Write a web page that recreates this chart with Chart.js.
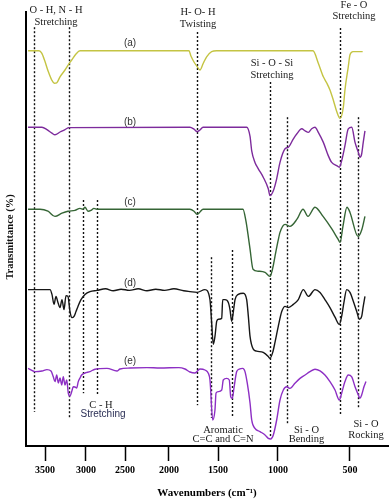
<!DOCTYPE html>
<html>
<head>
<meta charset="utf-8">
<script src="https://cdn.jsdelivr.net/npm/chart.js@4/dist/chart.umd.min.js"></script>
<style>
    html, body { margin: 0; padding: 0; background: #fff; }
</style>
</head>
<body>
<canvas id="ftirChart" width="392" height="502"></canvas>
<script>

// FTIR spectra (a)-(e), [wavenumber cm-1, transmittance]
const traceNames = ['(a)', '(b)', '(c)', '(d)', '(e)'];

const traceA = [[3707,98.8],[3573,98.8],[3540,98.2],[3500,96.1],[3460,93.6],[3418,91.5],[3387,90.7],[3357,90.8],[3317,92.3],[3256,94.0],[3216,95.3],[3174,96.5],[3122,98.0],[3073,98.8],[1796,98.8],[1776,97.5],[1745,96.0],[1711,94.8],[1684,94.0],[1650,95.7],[1616,97.3],[1565,98.6],[1514,98.8],[757,98.8],[720,95.7],[685,92.3],[662,90.8],[639,89.0],[616,86.5],[592,83.6],[569,81.9],[546,84.8],[535,89.0],[512,94.8],[500,97.8],[479,98.6],[412,98.6]];

const traceB = [[3707,79.7],[3537,79.7],[3476,79.1],[3415,78.2],[3378,77.8],[3317,78.5],[3256,79.1],[3207,79.6],[1786,79.7],[1745,79.2],[1714,78.6],[1684,79.0],[1653,79.7],[1261,79.7],[1233,77.4],[1219,73.8],[1192,70.9],[1164,69.3],[1123,67.2],[1081,64.3],[1067,62.6],[1039,63.8],[1011,66.8],[986,70.9],[951,74.3],[928,74.7],[893,76.8],[870,78.0],[835,79.3],[812,78.8],[789,78.4],[766,79.3],[743,79.7],[720,78.4],[685,75.9],[651,72.6],[627,70.9],[592,70.1],[574,69.7],[558,71.3],[535,75.1],[512,79.3],[488,79.7],[465,75.9],[442,73.4],[431,72.2],[419,73.0],[408,75.9],[396,78.8]];

const traceC = [[3707,59.2],[3561,59.2],[3464,58.7],[3378,57.4],[3293,58.2],[3220,58.7],[3134,58.9],[3073,59.4],[3037,59.2],[3012,59.7],[2974,58.7],[2936,58.9],[2898,59.4],[2859,59.2],[1786,59.2],[1745,58.7],[1714,57.9],[1684,58.5],[1653,59.2],[1292,59.2],[1267,56.2],[1250,52.9],[1233,49.2],[1208,44.2],[1167,43.7],[1108,43.4],[1067,42.4],[1042,44.7],[1025,47.4],[1000,51.2],[986,53.4],[951,55.4],[917,54.9],[868,56.7],[826,59.2],[792,57.4],[743,59.7],[687,57.4],[625,54.2],[583,51.7],[569,50.9],[549,54.9],[521,59.7],[500,58.4],[444,52.4],[417,54.2],[396,57.4]];

const traceD = [[3707,39.1],[3439,39.1],[3415,37.9],[3390,35.4],[3366,37.4],[3342,35.9],[3317,34.6],[3293,36.6],[3268,34.1],[3244,37.6],[3220,37.4],[3195,33.6],[3171,32.1],[3146,32.4],[3122,33.6],[3098,34.9],[3061,36.6],[3012,37.9],[2949,38.6],[2859,38.9],[2750,39.3],[2650,38.8],[2550,39.2],[2450,38.9],[2350,39.3],[2250,38.8],[2150,39.2],[2050,38.9],[1950,39.3],[1850,38.8],[1786,38.6],[1714,38.4],[1633,39.1],[1582,36.6],[1565,30.9],[1548,25.4],[1531,27.4],[1513,31.2],[1498,31.7],[1469,31.9],[1461,36.6],[1442,36.6],[1414,35.9],[1400,34.1],[1386,31.2],[1372,33.6],[1358,36.6],[1331,37.9],[1289,38.2],[1261,36.6],[1247,32.4],[1233,27.4],[1206,24.2],[1178,23.7],[1123,23.4],[1081,22.4],[1067,21.9],[1044,23.4],[1025,25.9],[998,29.9],[974,33.6],[951,34.9],[928,34.6],[893,35.4],[859,36.6],[824,39.1],[789,37.4],[743,39.1],[708,38.4],[674,36.6],[639,34.6],[604,32.2],[574,30.4],[558,32.4],[542,35.9],[523,39.1],[500,38.4],[477,36.2],[453,33.6],[435,31.7],[419,32.4],[408,34.9],[396,37.4]];

const traceE = [[3707,19.4],[3622,18.6],[3537,18.75],[3476,19.1],[3427,18.75],[3399,17.3],[3378,16.1],[3357,17.75],[3338,15.75],[3317,17.0],[3296,15.25],[3277,17.3],[3256,15.25],[3235,16.5],[3216,13.25],[3195,12.5],[3174,13.6],[3155,14.8],[3134,14.75],[3114,14.5],[3094,16.1],[3073,17.0],[3053,17.75],[3012,18.25],[2949,18.6],[2885,19.2],[2731,19.4],[2603,18.75],[2564,19.25],[2443,19.5],[2250,19.6],[2102,19.5],[1900,19.6],[1837,19.25],[1786,18.5],[1735,18.25],[1684,19.25],[1633,19.0],[1599,18.2],[1582,16.5],[1554,6.5],[1531,9.0],[1520,13.25],[1497,13.6],[1469,14.0],[1456,16.5],[1428,16.9],[1406,16.5],[1394,12.3],[1381,11.9],[1367,14.5],[1344,18.6],[1323,19.2],[1294,19.4],[1275,18.6],[1256,15.7],[1233,10.75],[1219,6.5],[1192,4.4],[1150,3.6],[1108,2.75],[1081,1.9],[1061,1.75],[1039,2.75],[1011,6.5],[986,11.5],[963,14.0],[940,14.8],[917,14.4],[882,15.7],[847,16.9],[812,17.75],[778,18.6],[743,19.2],[708,18.8],[674,17.75],[639,16.1],[604,14.0],[574,11.5],[558,13.2],[535,16.1],[512,17.75],[488,17.3],[465,14.8],[442,12.75],[431,11.9],[419,12.75],[403,14.8],[389,16.1]];

// band assignments (dashed lines), cm-1
const bandWave = [3630, 3210, 3040, 2860, 1715, 1570, 1385, 1065, 940, 570, 445];

// x tick labels
const tickWave = [3500, 3000, 2500, 2000, 1500, 1000, 500];

// the printed axis is not linear, so calibrate it on its own tick marks
const axisWave = [3732, 3500, 3000, 2500, 2000, 1500, 1000, 500, 236];
const axisFrac = [0, 0.0525, 0.1657, 0.2735, 0.395, 0.5304, 0.6961, 0.895, 1];

function warp(v) {
    let i = 0;
    while (i < axisWave.length - 2 && v < axisWave[i + 1]) i++;
    const t = (v - axisWave[i]) / (axisWave[i + 1] - axisWave[i]);
    return axisFrac[i] + t * (axisFrac[i + 1] - axisFrac[i]);
}
function unwarp(d) {
    let i = 0;
    while (i < axisFrac.length - 2 && d > axisFrac[i + 1]) i++;
    const t = (d - axisFrac[i]) / (axisFrac[i + 1] - axisFrac[i]);
    return axisWave[i] + t * (axisWave[i + 1] - axisWave[i]);
}

class WarpedScale extends Chart.LinearScale {
    getPixelForValue(value) {
        return this.getPixelForDecimal(warp(value));
    }
    getValueForPixel(pixel) {
        return unwarp(this.getDecimalForPixel(pixel));
    }
}
WarpedScale.id = 'warped';
WarpedScale.defaults = Chart.LinearScale.defaults;
Chart.register(WarpedScale);

const colors = ['#c4c443', '#7d2b9c', '#356535', '#161616', '#8d2fc4'];
const traces = [traceA, traceB, traceC, traceD, traceE];

// text notes: [lines, wavenumber, y, font]
const serif = '10.5px "Liberation Serif"';
const notes = [
    [['O - H, N - H', 'Stretching'], 3366, 109, 3],
    [['H- O- H', 'Twisting'], 1704, 108.5, 3],
    [['Fe - O', 'Stretching'], 472, 110.2, 2.8],
    [['Si - O - Si', 'Stretching'], 1050, 95.7, 3],
    [['C - H'], 2808, 10.2, 0],
    [['Aromatic', 'C=C and C=N'], 1458, 4.0, 2.3],
    [['Si - O', 'Bending'], 802, 4.0, 2.3],
    [['Si - O', 'Rocking'], 389, 5.5, 2.8]
];
const bandSpan = [[104.7, 8.5], [104.7, 7.2], [61.5, 13.2], [61.5, 12.7], [103.5, 10.2], [47.2, 7], [49, 7.2], [91, 2.2], [82.2, 5.2], [104.5, 7.7], [82.2, 9.7]];
const nameY = [100.75, 81, 61, 40.75, 21.25];

const notesPlugin = {
    id: 'ftirNotes',
    beforeDatasetsDraw(chart) {
        const { ctx, scales: { x, y } } = chart;
        ctx.save();
        ctx.strokeStyle = '#111';
        ctx.lineWidth = 1.4;
        ctx.setLineDash([2, 2]);
        bandWave.forEach((wn, i) => {
            const px = Math.round(x.getPixelForValue(wn)) + 0.5;
            ctx.beginPath();
            ctx.moveTo(px, y.getPixelForValue(bandSpan[i][0]));
            ctx.lineTo(px, y.getPixelForValue(bandSpan[i][1]));
            ctx.stroke();
        });
        ctx.restore();
    },
    afterDraw(chart) {
        const { ctx, scales: { x, y } } = chart;
        ctx.save();
        ctx.textAlign = 'center';
        ctx.textBaseline = 'middle';
        ctx.fillStyle = '#1a1a1a';
        ctx.font = serif;
        notes.forEach(n => {
            n[0].forEach((line, k) => {
                ctx.fillText(line, x.getPixelForValue(n[1]), y.getPixelForValue(n[2] - k * n[3]));
            });
        });
        // C - H second line is in a plain sans face
        ctx.font = '10px "Liberation Sans"';
        ctx.fillStyle = '#2b2f55';
        ctx.fillText('Stretching', x.getPixelForValue(2782), y.getPixelForValue(8));

        ctx.font = '10px "Liberation Sans"';
        ctx.fillStyle = '#333';
        traceNames.forEach((name, i) => {
            ctx.fillText(name, x.getPixelForValue(2443), y.getPixelForValue(nameY[i]));
        });

        // y axis title
        ctx.font = 'bold 10.5px "Liberation Serif"';
        ctx.fillStyle = '#111';
        ctx.translate(10.6, 237);
        ctx.rotate(-Math.PI / 2);
        ctx.fillText('Transmittance (%)', 0, 0);
        ctx.restore();
    }
};

const ctx = document.getElementById('ftirChart').getContext('2d');
new Chart(ctx, {
    type: 'line',
    data: {
        datasets: traces.map((t, i) => ({
            label: traceNames[i],
            data: t.map(p => ({ x: p[0], y: p[1] })),
            borderColor: colors[i],
            borderWidth: 1.4,
            pointRadius: 0,
            cubicInterpolationMode: 'monotone',
            fill: false
        }))
    },
    options: {
        responsive: false,
        animation: false,
        events: [],
        layout: { padding: { top: 12, right: 4, left: 0, bottom: 0 } },
        plugins: {
            legend: { display: false },
            tooltip: { enabled: false }
        },
        scales: {
            x: {
                type: 'warped',
                min: 236,
                max: 3732,
                afterBuildTicks: (scale) => {
                    scale.ticks = tickWave.map(v => ({ value: v }));
                },
                afterFit: (scale) => { scale.height = 56; },
                grid: {
                    drawOnChartArea: false,
                    drawTicks: true,
                    tickLength: 15,
                    tickWidth: 1.5,
                    tickColor: '#000'
                },
                border: { display: true, color: '#000', width: 2 },
                ticks: {
                    color: '#000',
                    padding: 3,
                    maxRotation: 0,
                    autoSkip: false,
                    font: { family: 'Liberation Serif', weight: 'bold', size: 10 },
                    callback: (v) => String(v)
                },
                title: {
                    display: true,
                    text: 'Wavenumbers (cm⁻¹)',
                    color: '#000',
                    padding: { top: 4, bottom: 2 },
                    font: { family: 'Liberation Serif', weight: 'bold', size: 11 }
                }
            },
            y: {
                min: 0,
                max: 108.5,
                afterFit: (scale) => { scale.width = 26; },
                grid: { display: false },
                border: { display: true, color: '#000', width: 2 },
                ticks: { display: false }
            }
        }
    },
    plugins: [notesPlugin]
});
</script>
</body>
</html>
